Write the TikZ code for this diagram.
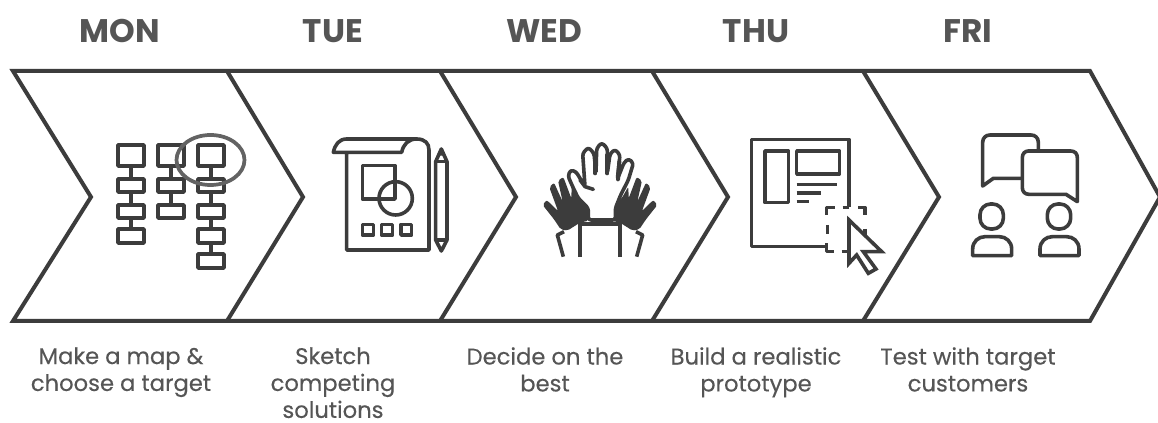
\documentclass[tikz,border=0pt]{standalone}
\usepackage{fontspec}
\setmainfont{Poppins}[FakeBold=0.25,BoldFeatures={FakeBold=0}]
\definecolor{ink}{HTML}{3C3C3C}
\definecolor{txt}{HTML}{555555}
\tikzset{
 outline/.style={draw=ink,line width=3pt,line join=miter},
 ico/.style={draw=ink,line width=2.7pt,line join=round},
 iconbox/.style={x=0.25pt,y=-0.25pt},
 dayl/.style={text=txt,font=\fontsize{24.5}{28}\selectfont\bfseries,anchor=center,inner sep=0pt},
 captxt/.style={text=txt,font=\fontsize{17}{20.2}\selectfont,align=center,anchor=north,inner sep=0pt},
}
\begin{document}
\begin{tikzpicture}[x=0.75pt,y=-0.75pt]
\useasboundingbox (0,0) rectangle (1158,423);
\fill[white] (0,0) rectangle (1158,423);
% chevrons
\begin{scope}
\clip (0,0) rectangle (1158,423);
\draw[outline] (13,71) -- (1090,71) -- (1160,197) -- (1090,321) -- (13,321) -- (91,197) -- cycle;
\foreach \x in {227,440,652,863}{
 \draw[outline] (\x,71) -- ({\x+76},197) -- (\x,321);
}
\end{scope}
% day labels
\node[dayl] (mon) at (120,31) {MON};
\node[dayl] (tue) at (333,31) {TUE};
\node[dayl] (wed) at (544,31) {WED};
\node[dayl] (thu) at (756,31) {THU};
\node[dayl] (fri) at (968,31) {FRI};
% captions
\node[captxt] (c1) at (121,347) {Make a map \&\\choose a target};
\node[captxt] (c2) at (333,347) {Sketch\\competing\\solutions};
\node[captxt] (c3) at (545,347) {Decide on the\\best};
\node[captxt] (c4) at (756,347) {Build a realistic\\prototype};
\node[captxt] (c5) at (968,347) {Test with target\\customers};
% MON icon
\begin{scope}[ico]
\foreach \x in {118,158,198}{
 \draw (\x,145) rectangle (\x+26,166);
 \draw (\x,179) rectangle (\x+26,192);
 \draw (\x,205) rectangle (\x+26,218);
 \draw (\x+13,166) -- (\x+13,179);
 \draw (\x+13,192) -- (\x+13,205);
}
\foreach \x in {118,198}{
 \draw (\x,229) rectangle (\x+26,243);
 \draw (\x+13,218) -- (\x+13,229);
}
\draw (198,254) rectangle (224,268);
\draw (211,243) -- (211,254);
\draw[draw=ink!80,line width=2.8pt] (210.5,160) ellipse (34 and 25);
\end{scope}
% TUE icon
\begin{scope}[shift={(320,125)},iconbox,ico]
\draw (80,82) -- (80,375) -- (327,375) -- (327,75) .. controls (327,55) and (315,42) .. (290,42) -- (80,42) .. controls (58,42) and (45,58) .. (40,82) -- (245,82) .. controls (250,58) and (265,42) .. (290,42);
\draw (127,122) rectangle (225,222);
\draw (227,220) circle (50);
\draw (127,298) rectangle (160,330);
\draw (185,298) rectangle (218,330);
\draw (243,298) rectangle (275,330);
\draw (347,110) -- (364,72) -- (381,110) -- (381,345) -- (364,378) -- (347,345) -- cycle;
\draw (347,110) -- (381,110);
\draw (347,345) -- (381,345);
\fill[ink] (364,72) -- (372,92) -- (356,92) -- cycle;
\end{scope}
% WED icon
\begin{scope}[shift={(530,130)},iconbox,ico]
\foreach \m in {1,-1}{
 \begin{scope}[shift={(210,0)},xscale=\m,shift={(-210,0)}]
 \fill[ink,rounded corners=1.5pt] (38,225) -- (50,210) -- (84,243) -- (58,172) -- (72,158) -- (98,215) -- (84,152) -- (100,141) -- (124,205) -- (125,170) -- (145,205) -- (176,235) -- (176,272) -- (150,278) -- (112,302) -- (92,298) -- (72,268) -- cycle;
 \draw (100,380) -- (82,315) -- (102,305);
 \draw (150,280) -- (150,380);
 \end{scope}
}
\draw[fill=white,rounded corners=2pt] (175,270) -- (175,235) -- (145,205) -- (128,170) -- (114,138) -- (122,120) -- (138,125) -- (165,170) -- (158,70) -- (175,52) -- (192,70) -- (198,130) -- (200,55) -- (215,38) -- (232,55) -- (232,130) -- (240,72) -- (255,58) -- (270,75) -- (262,148) -- (282,98) -- (296,86) -- (310,100) -- (295,150) -- (272,195) -- (256,235) -- (256,270) -- cycle;
\draw[line width=3pt,line cap=round] (196,72) -- (196,130);
\draw[line width=3pt,line cap=round] (232,75) -- (232,130);
\draw[line width=3pt,line cap=round] (268,95) -- (264,148);
\draw[line cap=round] (150,150) -- (165,170) -- (190,178);
\draw (150,282) -- (270,282);
\end{scope}
% THU icon
\begin{scope}[shift={(740,125)},iconbox,ico]
\draw (327,245) -- (327,43) -- (35,43) -- (35,365) -- (258,365);
\draw (75,78) rectangle (145,233);
\draw (170,78) rectangle (298,147);
\draw (170,178) -- (292,178);
\draw (170,204) -- (244,204);
\draw (170,230) -- (206,230);
\draw (260,270) -- (260,248) -- (285,248);
\draw (308,248) -- (327,248);
\draw (355,248) -- (375,248) -- (375,270);
\draw (262,300) -- (262,328);
\draw (375,312) -- (375,332);
\draw (260,355) -- (260,380) -- (282,380);
\draw (305,380) -- (327,380);
\draw[fill=white,line join=miter] (327,285) -- (425,380) -- (370,380) -- (408,432) -- (385,445) -- (350,390) -- (327,415) -- cycle;
\end{scope}
% FRI icon
\begin{scope}[shift={(960,125)},iconbox,ico]
\draw[line cap=round] (235,75) -- (235,52) .. controls (235,38) and (225,30) .. (213,30) -- (90,30) .. controls (78,30) and (68,38) .. (68,52) -- (68,183) -- (100,160) -- (185,160);
\draw (205,78) -- (332,78) .. controls (345,78) and (352,86) .. (352,98) -- (352,230) -- (318,208) -- (207,208) .. controls (195,208) and (187,200) .. (187,188) -- (187,98) .. controls (187,86) and (195,78) .. (205,78) -- cycle;
\foreach \d in {0,202}{
 \draw[rounded corners=8pt] (60+\d,237) rectangle (130+\d,312);
 \draw (38+\d,392) -- (38+\d,372) .. controls (38+\d,350) and (55+\d,335) .. (75+\d,335) -- (118+\d,335) .. controls (138+\d,335) and (155+\d,350) .. (155+\d,372) -- (155+\d,392) -- cycle;
}
\end{scope}
\end{tikzpicture}
\end{document}
